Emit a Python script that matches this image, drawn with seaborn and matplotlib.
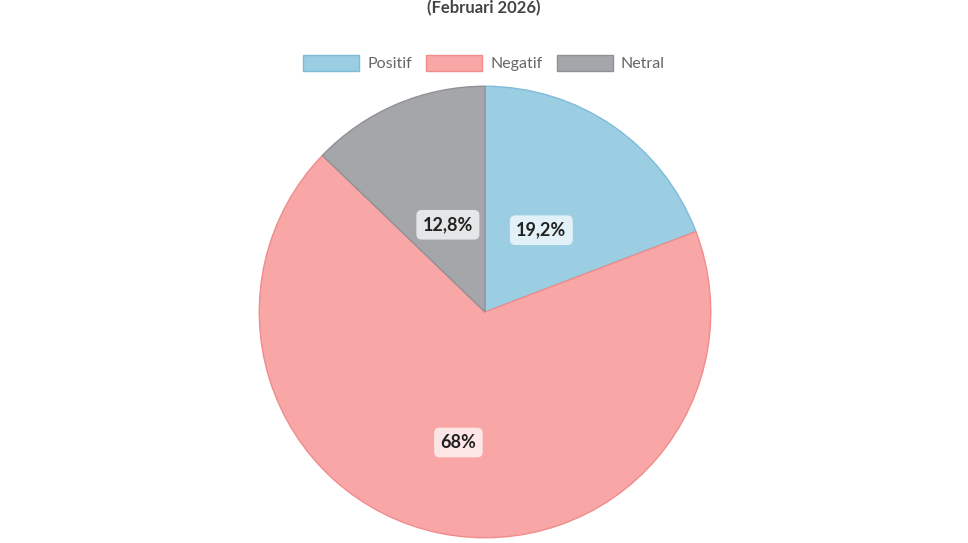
import numpy as np
import matplotlib.pyplot as plt
import seaborn as sns

# Data
labels = ['Positif', 'Negatif', 'Netral']
values = [19.2, 68.0, 12.8]
value_text = ['19,2%', '68%', '12,8%']
colors = ['#9bcde3', '#f9a6a7', '#a5a6aa']
edge_colors = ['#7fbcd8', '#f08c8c', '#909196']

sns.set_theme(style='white')
plt.rcParams['font.family'] = ['Lato', 'DejaVu Sans']

fig = plt.figure(figsize=(9.68, 5.43), dpi=100)
fig.patch.set_facecolor('white')

# pie centre ~ (485, 312) px, radius ~ 228 px
cx, cy, r = 485, 312, 228
W, H = 968, 543
ax = fig.add_axes([(cx - r) / W, (H - cy - r) / H, 2 * r / W, 2 * r / H])

wedges, _ = ax.pie(values, colors=colors, startangle=90, counterclock=False,
                   wedgeprops=dict(linewidth=1.0))
for w, ec in zip(wedges, edge_colors):
    w.set_edgecolor(ec)
ax.set_xlim(-1.01, 1.01)
ax.set_ylim(-1.01, 1.01)
ax.set_aspect('equal')
ax.axis('off')

# value labels inside the slices
label_dist = [0.44, 0.59, 0.42]
for w, txt, d in zip(wedges, value_text, label_dist):
    ang = np.deg2rad((w.theta1 + w.theta2) / 2)
    ax.text(d * np.cos(ang), d * np.sin(ang), txt, ha='center', va='center',
            fontsize=13, fontweight='bold', color='#222222',
            bbox=dict(boxstyle='round,pad=0.35,rounding_size=0.3',
                      facecolor='white', edgecolor='none', alpha=0.72))

# legend
handles = [plt.Rectangle((0, 0), 1, 1, facecolor=c, edgecolor=e, linewidth=1.0)
           for c, e in zip(colors, edge_colors)]
fig.legend(handles, labels, loc='center', bbox_to_anchor=(0.5, 1 - 63 / H),
           ncol=3, frameon=False, handlelength=3.5, handleheight=1.15,
           handletextpad=0.5, columnspacing=0.9,
           prop={'size': 11.5}, labelcolor='#666666')

# title (sits at the very top edge)
fig.text(0.5, 1 - 8 / H, '(Februari 2026)', ha='center', va='center',
         fontsize=12, fontweight='bold', color='#444444')

fig.savefig('out.png', dpi=100)
plt.close(fig)
